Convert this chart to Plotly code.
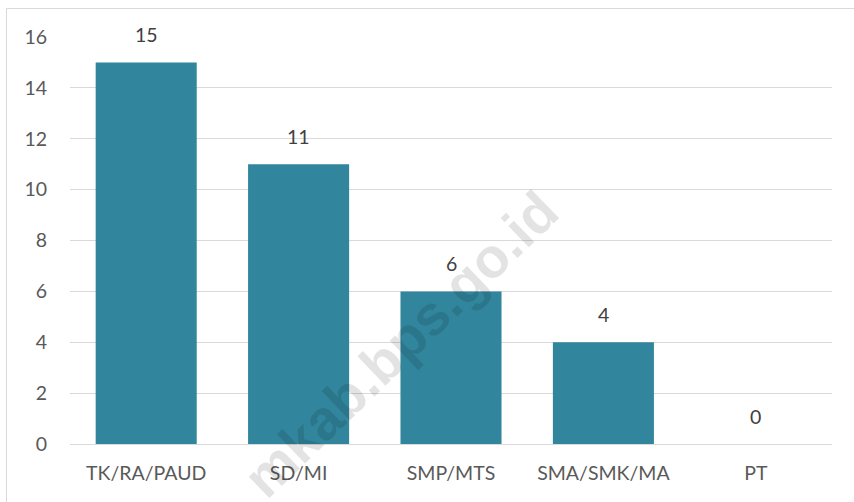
import plotly.graph_objects as go

categories = ["TK/RA/PAUD", "SD/MI", "SMP/MTS", "SMA/SMK/MA", "PT"]
values = [15, 11, 6, 4, 0]
y_ticks = [0, 2, 4, 6, 8, 10, 12, 14, 16]

W, H = 854, 502
ML, MR, MT, MB = 70, 22, 37, 58
PW, PH = W - ML - MR, H - MT - MB

def px_x(x):
    return (x - ML) / PW

def px_y(y):
    return 1 - (y - MT) / PH

BAR = "#31859C"
TXT = "#595959"
FONT = "Lato"
FS = 19.5

fig = go.Figure(go.Bar(
    x=categories, y=values, marker=dict(color=BAR, line=dict(width=0)),
    hoverinfo="x+y",
))

for c, v in zip(categories, values):
    fig.add_annotation(x=c, y=v, text=str(v), showarrow=False,
                       yanchor="bottom", yshift=14,
                       font=dict(family=FONT, size=FS, color="#404040"))

# watermark
fig.add_annotation(x=px_x(400), y=px_y(344), xref="paper", yref="paper",
                   xanchor="center", yanchor="middle",
                   text="<b>mkab.bps.go.id</b>", showarrow=False, textangle=-44,
                   font=dict(family="Liberation Sans", size=56, color="rgba(0,0,0,0.11)"))

# chart border
fig.add_shape(type="rect", xref="paper", yref="paper",
              x0=px_x(6.5), x1=px_x(870), y0=px_y(520), y1=px_y(8.5),
              line=dict(color="#d9d9d9", width=1), fillcolor="rgba(0,0,0,0)", layer="below")

fig.update_layout(
    width=W, height=H,
    margin=dict(l=ML, r=MR, t=MT, b=MB),
    paper_bgcolor="white", plot_bgcolor="white",
    bargap=0.337,
    showlegend=False,
    font=dict(family=FONT, size=FS, color=TXT),
    xaxis=dict(showgrid=False, showline=False, zeroline=False, ticks="",
               ticklabelstandoff=15, tickfont=dict(family=FONT, size=FS, color=TXT)),
    yaxis=dict(range=[0, 16], tickvals=y_ticks, showgrid=True, gridcolor="#d9d9d9",
               gridwidth=1, zeroline=True, zerolinecolor="#d9d9d9", zerolinewidth=1,
               showline=False, ticks="", ticklabelstandoff=22,
               tickfont=dict(family=FONT, size=FS, color=TXT)),
)

fig.write_html("out.html", config={"displayModeBar": False},
               post_script="document.body.style.margin='0';document.body.style.overflow='hidden';")
